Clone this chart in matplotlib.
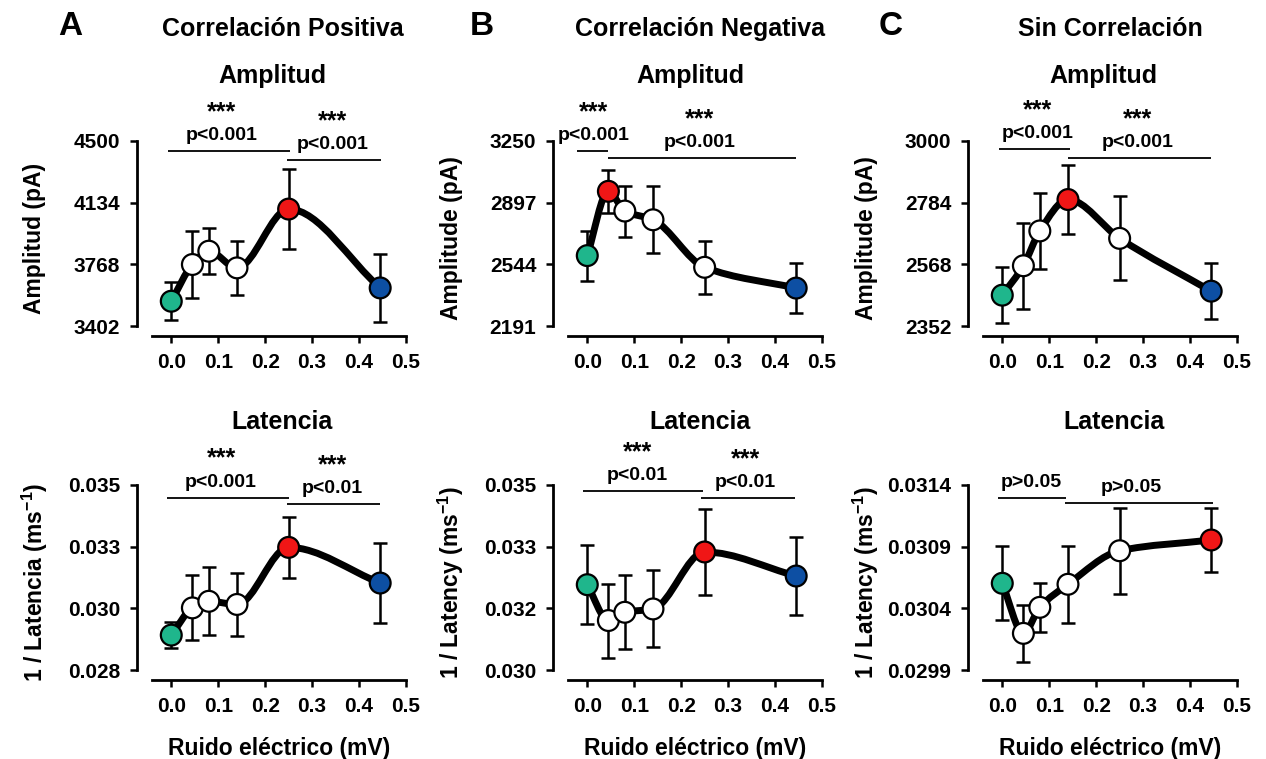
import numpy as np
import matplotlib
matplotlib.use("Agg")
import matplotlib.pyplot as plt
from matplotlib.path import Path
from matplotlib.patches import PathPatch

plt.rcParams["font.family"] = ["Liberation Sans", "DejaVu Sans"]
plt.rcParams["font.weight"] = "bold"
plt.rcParams["mathtext.fontset"] = "custom"
plt.rcParams["mathtext.rm"] = "Liberation Sans:bold"
plt.rcParams["mathtext.bf"] = "Liberation Sans:bold"
plt.rcParams["mathtext.it"] = "Liberation Sans:bold"

# ---------------- data ----------------
noise_mv = [0.0, 0.045, 0.08, 0.14, 0.25, 0.445]
x_ticks = [0.0, 0.1, 0.2, 0.3, 0.4, 0.5]
x_tick_labels = ["0.0", "0.1", "0.2", "0.3", "0.4", "0.5"]

# A - positive correlation
amp_pos = [3549, 3767, 3846, 3747, 4096, 3628]
amp_pos_err = [112, 197, 136, 159, 237, 202]
amp_pos_colors = ["g", "w", "w", "w", "r", "b"]
lat_pos = [0.02932, 0.03035, 0.03060, 0.03048, 0.03264, 0.03129]
lat_pos_err = [0.00048, 0.00123, 0.00128, 0.00118, 0.00115, 0.00152]
lat_pos_colors = ["g", "w", "w", "w", "r", "b"]

# B - negative correlation
amp_neg = [2594, 2962, 2849, 2799, 2527, 2408]
amp_neg_err = [143, 123, 146, 191, 152, 145]
amp_neg_colors = ["g", "r", "w", "w", "w", "b"]
lat_neg = [0.032306, 0.031337, 0.031560, 0.031650, 0.033190, 0.032540]
lat_neg_err = [0.00107, 0.00100, 0.00100, 0.00104, 0.00116, 0.00106]
lat_neg_colors = ["g", "w", "w", "w", "r", "b"]

# C - no correlation
amp_none = [2460, 2563, 2685, 2795, 2659, 2474]
amp_none_err = [97, 151, 132, 122, 147, 97]
amp_none_colors = ["g", "w", "w", "r", "w", "b"]
lat_none = [0.030603, 0.030197, 0.030408, 0.030595, 0.030867, 0.030954]
lat_none_err = [0.00030, 0.00023, 0.00020, 0.00031, 0.00035, 0.00026]
lat_none_colors = ["g", "w", "w", "w", "w", "r"]

# y-axis ranges and tick labels
amp_pos_range = (3402, 4500)
amp_pos_ticklabels = ["3402", "3768", "4134", "4500"]
amp_neg_range = (2191, 3250)
amp_neg_ticklabels = ["2191", "2544", "2897", "3250"]
amp_none_range = (2352, 3000)
amp_none_ticklabels = ["2352", "2568", "2784", "3000"]
lat_pos_range = (0.028, 0.035)
lat_pos_ticklabels = ["0.028", "0.030", "0.033", "0.035"]
lat_neg_range = (0.030, 0.035)
lat_neg_ticklabels = ["0.030", "0.032", "0.033", "0.035"]
lat_none_range = (0.0299, 0.0314)
lat_none_ticklabels = ["0.0299", "0.0304", "0.0309", "0.0314"]

# significance brackets: (x start, x end, y, stars, p text, text x)
sig_amp_pos = [(-0.007, 0.252, 4441, "***", "p<0.001", 0.108),
               (0.247, 0.447, 4387, "***", "p<0.001", 0.344)]
sig_lat_pos = [(-0.009, 0.250, 0.03452, "***", "p<0.001", 0.106),
               (0.246, 0.445, 0.03427, "***", "p<0.01", 0.343)]
sig_amp_neg = [(-0.021, 0.0445, 3192, "***", "p<0.001", 0.014),
               (0.0445, 0.4436, 3150, "***", "p<0.001", 0.239)]
sig_lat_neg = [(-0.010, 0.2457, 0.03484, "***", "p<0.01", 0.106),
               (0.2424, 0.4415, 0.03464, "***", "p<0.01", 0.337)]
sig_amp_none = [(-0.007, 0.1446, 2971, "***", "p<0.001", 0.0745),
                (0.139, 0.4436, 2940, "***", "p<0.001", 0.2876)]
sig_lat_none = [(-0.0094, 0.1368, 0.031297, None, "p>0.05", 0.062),
                (0.1335, 0.449, 0.031256, None, "p>0.05", 0.2756)]

PALETTE = {"g": "#1fb68c", "w": "#ffffff", "r": "#f01616", "b": "#0d4fa3"}

# ---------------- figure ----------------
W, H = 1266, 759
fig = plt.figure(figsize=(W / 100, H / 100), dpi=100)

XMIN, XMAX = -0.073, 0.5
SPINE_X0 = -0.042
col_left = [137, 553, 968]
col_width = 269
row_top = [141, 485]
row_height = 195
gap_px = 10  # distance between lowest y tick and the x axis line


def smooth_curve(xs, ys):
    """Monotone cubic (PCHIP-style) Bezier path through the points."""
    xs = np.asarray(xs, float)
    ys = np.asarray(ys, float)
    h = np.diff(xs)
    d = np.diff(ys) / h
    n = len(xs)
    m = np.zeros(n)
    for i in range(1, n - 1):
        if d[i - 1] * d[i] <= 0:
            m[i] = 0.0
        else:
            w1 = 2 * h[i] + h[i - 1]
            w2 = h[i] + 2 * h[i - 1]
            m[i] = (w1 + w2) / (w1 / d[i - 1] + w2 / d[i])
    m[0] = d[0]
    m[-1] = d[-1]
    verts = [(xs[0], ys[0])]
    codes = [Path.MOVETO]
    for i in range(n - 1):
        verts.append((xs[i] + h[i] / 3, ys[i] + m[i] * h[i] / 3))
        verts.append((xs[i + 1] - h[i] / 3, ys[i + 1] - m[i + 1] * h[i] / 3))
        verts.append((xs[i + 1], ys[i + 1]))
        codes += [Path.CURVE4] * 3
    return Path(verts, codes)


def make_axes(col, row):
    left = col_left[col] / W
    bottom = 1 - (row_top[row] + row_height) / H
    return fig.add_axes([left, bottom, col_width / W, row_height / H])


def draw_panel(ax, y, err, colors, yrange, yticklabels, sig, ylabel, xlabel):
    lo, hi = yrange
    span = hi - lo
    ax.set_xlim(XMIN, XMAX)
    ax.set_ylim(lo - span * gap_px / (row_height - gap_px), hi)

    ax.add_patch(PathPatch(smooth_curve(noise_mv, y), fc="none", ec="black",
                           lw=5.0, capstyle="round", joinstyle="round", zorder=2))
    ax.errorbar(noise_mv, y, yerr=err, fmt="none", ecolor="black",
                elinewidth=1.8, capsize=4.8, capthick=1.8, zorder=3,
                clip_on=False)
    ax.scatter(noise_mv, y, s=225, c=[PALETTE[c] for c in colors],
               edgecolors="black", linewidths=1.6, zorder=4, clip_on=False)

    for sp in ("top", "right"):
        ax.spines[sp].set_visible(False)
    ax.spines["left"].set_bounds(lo, hi)
    ax.spines["bottom"].set_bounds(SPINE_X0, 0.5)
    for sp in ("left", "bottom"):
        ax.spines[sp].set_linewidth(2.0)

    ax.set_yticks(np.linspace(lo, hi, 4))
    ax.set_yticklabels(yticklabels)
    ax.set_xticks(x_ticks)
    ax.set_xticklabels(x_tick_labels)
    ax.tick_params(direction="out", length=5, width=1.8, pad=7,
                   labelsize=15)

    ax.set_ylabel(ylabel, fontsize=16.5, fontweight="bold", va="center")
    ax.yaxis.set_label_coords(-102 / col_width, 0.5)
    if xlabel:
        ax.set_xlabel(xlabel, fontsize=16.5, fontweight="bold", va="center")
        xc = ((SPINE_X0 + 0.5) / 2 - XMIN) / (XMAX - XMIN)
        ax.xaxis.set_label_coords(xc, -68 / row_height)

    for x0, x1, yb, stars, ptxt, tx in sig:
        ax.plot([x0, x1], [yb, yb], color="black", lw=1.3, clip_on=False,
                solid_capstyle="butt")
        ax.annotate(ptxt, xy=(tx, yb), xytext=(0, 11), textcoords="offset pixels",
                    ha="center", va="baseline", fontsize=14, fontweight="bold",
                    annotation_clip=False)
        if stars:
            ax.annotate(stars, xy=(tx, yb), xytext=(0, 32),
                        textcoords="offset pixels", ha="center", va="baseline",
                        fontsize=18, fontweight="bold", annotation_clip=False)


lat_label_es = "1 / Latencia (ms$^{-1}$)"
lat_label_en = "1 / Latency (ms$^{-1}$)"
xlab = "Ruido eléctrico (mV)"

draw_panel(make_axes(0, 0), amp_pos, amp_pos_err, amp_pos_colors, amp_pos_range,
           amp_pos_ticklabels, sig_amp_pos, "Amplitud (pA)", None)
draw_panel(make_axes(0, 1), lat_pos, lat_pos_err, lat_pos_colors, lat_pos_range,
           lat_pos_ticklabels, sig_lat_pos, lat_label_es, xlab)
draw_panel(make_axes(1, 0), amp_neg, amp_neg_err, amp_neg_colors, amp_neg_range,
           amp_neg_ticklabels, sig_amp_neg, "Amplitude (pA)", None)
draw_panel(make_axes(1, 1), lat_neg, lat_neg_err, lat_neg_colors, lat_neg_range,
           lat_neg_ticklabels, sig_lat_neg, lat_label_en, xlab)
draw_panel(make_axes(2, 0), amp_none, amp_none_err, amp_none_colors, amp_none_range,
           amp_none_ticklabels, sig_amp_none, "Amplitude (pA)", None)
draw_panel(make_axes(2, 1), lat_none, lat_none_err, lat_none_colors, lat_none_range,
           lat_none_ticklabels, sig_lat_none, lat_label_en, xlab)


def ftext(x, y, s, size):
    fig.text(x / W, 1 - y / H, s, ha="center", va="baseline",
             fontsize=size, fontweight="bold")


for x, s in zip([70, 482, 891], ["A", "B", "C"]):
    ftext(x, 35, s, 24)
for x, s in zip([283, 700, 1110],
                ["Correlación Positiva", "Correlación Negativa", "Sin Correlación"]):
    ftext(x, 36, s, 18)
for x in [272, 690, 1103]:
    ftext(x, 83, "Amplitud", 18)
for x in [282, 700, 1114]:
    ftext(x, 429, "Latencia", 18)

fig.savefig("out.png", dpi=100)
